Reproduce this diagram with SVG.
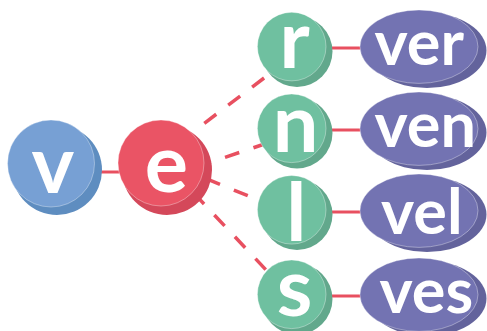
<svg xmlns="http://www.w3.org/2000/svg" width="487" height="331" viewBox="0 0 487 331">
<style>
.edge{stroke:#E85060;stroke-width:3;fill:none}
.dash{stroke:#E85060;stroke-width:3.5;fill:none;stroke-dasharray:15 15}
.hl{stroke:#ffffff;stroke-opacity:0.35;stroke-width:1}
.t{font-family:Lato,"Open Sans","DejaVu Sans",sans-serif;font-weight:700;fill:#ffffff}
.big{font-size:81px;text-anchor:middle}
.sm{font-size:63px}
.bm{fill:#77A0D4}.bs{fill:#5E8DC0}
.rm{fill:#EA5465}.rs{fill:#D4485A}
.gm{fill:#6FC0A0}.gs{fill:#62A88C}
.pm{fill:#7373B2}.ps{fill:#63639C}
</style>
<rect width="487" height="331" fill="#ffffff"/>
<g id="connectors">
<line class="edge" x1="95" y1="172" x2="125" y2="172"/>
<line class="dash" x1="204.3" y1="123.3" x2="272" y2="72"/>
<line class="dash" x1="196.6" y1="166.9" x2="266" y2="143.5"/>
<line class="dash" x1="206.1" y1="178.7" x2="271" y2="205.2"/>
<line class="dash" x1="193.8" y1="193.1" x2="269.2" y2="273.3"/>
<line class="edge" x1="320" y1="48" x2="366" y2="48"/>
<line class="edge" x1="320" y1="130" x2="366" y2="130"/>
<line class="edge" x1="320" y1="212" x2="366" y2="212"/>
<line class="edge" x1="320" y1="296" x2="366" y2="296"/>
</g>
<g id="node-v">
<circle class="bs" cx="57" cy="170" r="45"/>
<circle class="bm hl" cx="51" cy="163.5" r="43.5"/>
<text class="t big" x="53" y="192.5">v</text>
</g>
<g id="node-e">
<circle class="rs" cx="167" cy="170" r="45"/>
<circle class="rm hl" cx="161" cy="163" r="43"/>
<text class="t big" x="166.5" y="191.5">e</text>
</g>
<g id="node-r">
<circle class="gs" cx="297" cy="51.5" r="35.5"/>
<circle class="gm hl" cx="291.7" cy="46.6" r="34.3"/>
<text class="t big" x="294.5" y="68">r</text>
</g>
<g id="node-n">
<circle class="gs" cx="297" cy="133" r="35.5"/>
<circle class="gm hl" cx="291.7" cy="128.3" r="34.3"/>
<text class="t big" x="295.7" y="152">n</text>
</g>
<g id="node-l">
<circle class="gs" cx="297" cy="214.5" r="35.5"/>
<circle class="gm hl" cx="291.7" cy="209.8" r="34.3"/>
<text class="t big" x="296.3" y="241">l</text>
</g>
<g id="node-s">
<circle class="gs" cx="297" cy="299" r="35.5"/>
<circle class="gm hl" cx="291.7" cy="294.3" r="34.3"/>
<text class="t big" x="294.5" y="316">s</text>
</g>
<g id="node-ver">
<ellipse class="ps" cx="427" cy="50.5" rx="59.5" ry="37.5"/>
<ellipse class="pm hl" cx="419" cy="46.7" rx="59" ry="36.7"/>
<text class="t sm" x="374.5" y="65">ver</text>
</g>
<g id="node-ven">
<ellipse class="ps" cx="427" cy="132.5" rx="59.5" ry="37.5"/>
<ellipse class="pm hl" cx="419" cy="128.7" rx="59" ry="36.7"/>
<text class="t sm" x="374.5" y="147">ven</text>
</g>
<g id="node-vel">
<ellipse class="ps" cx="427" cy="214.5" rx="59.5" ry="37.5"/>
<ellipse class="pm hl" cx="419" cy="210.7" rx="59" ry="36.7"/>
<text class="t sm" x="381" y="233.5">vel</text>
</g>
<g id="node-ves">
<ellipse class="ps" cx="427" cy="298.5" rx="59.5" ry="37.5"/>
<ellipse class="pm hl" cx="419" cy="294.7" rx="59" ry="36.7"/>
<text class="t sm" x="379.5" y="312.5">ves</text>
</g>
</svg>
